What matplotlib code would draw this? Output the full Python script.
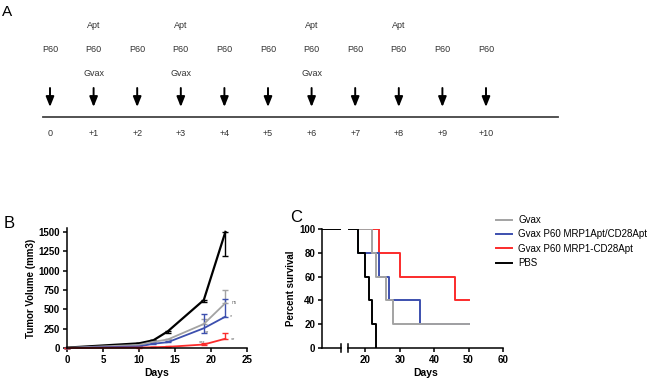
import numpy as np
import matplotlib.pyplot as plt
from matplotlib.lines import Line2D

plt.rcParams['font.family'] = ['Liberation Sans', 'DejaVu Sans']

# ---- panel A: treatment schedule ----
sched_days = list(range(11))
sched_labels = ['0'] + ['+%d' % d for d in sched_days[1:]]
apt_days = [1, 3, 6, 8]
gvax_days = [1, 3, 6]
p60_days = sched_days

# ---- panel B: tumor volume ----
vol_days = [0, 10, 12, 14, 19, 22]
pbs_vol = [5, 60, 100, 215, 620, 1500]
pbs_lo = [0, 0, 0, 20, 20, 310]
pbs_hi = [0, 0, 0, 0, 0, 0]
gvax_vol = [2, 40, 80, 110, 310, 580]
gvax_lo = [0, 0, 0, 0, 0, 0]
gvax_hi = [0, 5, 10, 10, 60, 175]
combo_vol = [0, 20, 55, 75, 255, 405]
combo_lo = [0, 0, 0, 0, 60, 0]
combo_hi = [0, 5, 10, 15, 185, 230]
fused_vol = [0, 5, 10, 15, 45, 120]
fused_lo = [0, 0, 0, 0, 0, 0]
fused_hi = [0, 2, 3, 5, 20, 70]

# ---- panel C: survival ----
gvax_t = [0, 22, 23, 26, 28, 50]
gvax_s = [100, 80, 60, 40, 20, 20]
combo_t = [0, 18, 24, 27, 36, 50]
combo_s = [100, 80, 60, 40, 20, 20]
fused_t = [0, 24, 30, 46, 50]
fused_s = [100, 80, 60, 40, 40]
pbs_t = [0, 18, 20, 21, 22, 23]
pbs_s = [100, 80, 60, 40, 20, 0]
group_names = ['Gvax', 'Gvax P60 MRP1Apt/CD28Apt', 'Gvax P60 MRP1-CD28Apt', 'PBS']

GREY = '#a3a3a3'
BLUE = '#3c4fae'
RED = '#fb2b2b'
BLACK = '#000000'

W, H = 650, 379
fig = plt.figure(figsize=(W / 100, H / 100), dpi=100)


def px_axes(left, top, right, bottom):
    return fig.add_axes([left / W, 1 - bottom / H, (right - left) / W, (bottom - top) / H])


def style(ax):
    ax.spines['top'].set_visible(False)
    ax.spines['right'].set_visible(False)
    for sp in ax.spines.values():
        sp.set_linewidth(1.1)
    ax.tick_params(width=1.1, length=3, labelsize=7, pad=2)
    for lab in ax.get_xticklabels() + ax.get_yticklabels():
        lab.set_fontweight('bold')


# panel A
axa = px_axes(0, 0, W, 140)
step = 43.6
axa.set_xlim(-50 / step, (W - 50) / step)
axa.set_ylim(140, 0)
axa.axis('off')
tc = '#333333'
for d in p60_days:
    axa.text(d, 50, 'P60', ha='center', va='center', fontsize=6.5, color=tc)
    axa.annotate('', xy=(d, 107), xytext=(d, 88),
                 arrowprops=dict(arrowstyle='-|>,head_width=0.24,head_length=0.6',
                                 color='black', lw=1.4, shrinkA=0, shrinkB=0))
for d in apt_days:
    axa.text(d, 26, 'Apt', ha='center', va='center', fontsize=6.5, color=tc)
for d in gvax_days:
    axa.text(d, 73, 'Gvax', ha='center', va='center', fontsize=6.5, color=tc)
for d, lab in zip(sched_days, sched_labels):
    axa.text(d, 133, lab, ha='center', va='center', fontsize=6.5, color=tc)
axa.plot([-7 / step, 508 / step], [117, 117], color='#444444', lw=1.3)
fig.text(2 / W, 1 - 12 / H, 'A', fontsize=11, va='center', ha='left')

# panel B
axb = px_axes(67, 228, 247, 348)
series_b = [
    (pbs_vol, pbs_lo, pbs_hi, BLACK, 1.6),
    (gvax_vol, gvax_lo, gvax_hi, GREY, 1.3),
    (combo_vol, combo_lo, combo_hi, BLUE, 1.3),
    (fused_vol, fused_lo, fused_hi, RED, 1.3),
]
for vals, lo, hi, col, lw in series_b:
    axb.errorbar(vol_days, vals, yerr=[lo, hi], color=col, lw=lw, elinewidth=1,
                 capsize=2.5, capthick=1, clip_on=False)
axb.set_xlim(0, 25)
axb.set_ylim(0, 1550)
axb.set_xticks([0, 5, 10, 15, 20, 25])
axb.set_yticks([0, 250, 500, 750, 1000, 1250, 1500])
axb.set_xlabel('Days', fontsize=7.5, fontweight='bold', labelpad=2)
axb.set_ylabel('Tumor Volume (mm3)', fontsize=7, fontweight='bold', labelpad=2)
axb.text(22.8, 590, 'ns', fontsize=3.5, color='#666666', va='center')
axb.text(22.6, 405, '*', fontsize=4, color='#666666', va='center')
axb.text(22.8, 115, '**', fontsize=4, color='#666666', va='center')
axb.text(18.3, 75, '***', fontsize=4, color='#666666', va='center')
axb.text(19.1, 205, '**', fontsize=4, color='#666666', va='center')
style(axb)
fig.text(4 / W, 1 - 223 / H, 'B', fontsize=12, va='center', ha='left')

# panel C (broken x axis)
axc0 = px_axes(322, 229, 341, 348)
axc1 = px_axes(348, 229, 503, 348)
series_c = [
    (fused_t, fused_s, RED),
    (combo_t, combo_s, BLUE),
    (gvax_t, gvax_s, GREY),
    (pbs_t, pbs_s, BLACK),
]
for ax in (axc0, axc1):
    for t, s, col in series_c:
        ax.step(t, s, where='post', color=col, lw=1.4)
    ax.set_ylim(0, 100)
axc0.set_xlim(0, 5.5)
axc0.set_xticks([])
axc0.set_yticks([0, 20, 40, 60, 80, 100])
axc1.set_xlim(15, 60)
axc1.set_xticks([20, 30, 40, 50, 60])
axc1.set_yticks([])
style(axc0)
style(axc1)
axc1.spines['left'].set_visible(False)
axc0.plot([1, 1], [-0.03, 0.03], transform=axc0.transAxes, color='black', lw=1.1, clip_on=False)
axc1.plot([0, 0], [-0.03, 0.03], transform=axc1.transAxes, color='black', lw=1.1, clip_on=False)
axc0.set_ylabel('Percent survival', fontsize=7, fontweight='bold', labelpad=2)
axc1.set_xlabel('Days', fontsize=7.5, fontweight='bold', labelpad=2)
fig.text(290 / W, 1 - 218 / H, 'C', fontsize=12, va='center', ha='left')

handles = [Line2D([], [], color=c, lw=1.4) for c in (GREY, BLUE, RED, BLACK)]
fig.legend(handles, group_names, loc='upper left', bbox_to_anchor=(496 / W, 1 - 215 / H),
           frameon=False, fontsize=7, handlelength=1.6, handletextpad=0.7,
           labelspacing=0.45, borderaxespad=0, borderpad=0)

fig.savefig('out.png', dpi=100)
